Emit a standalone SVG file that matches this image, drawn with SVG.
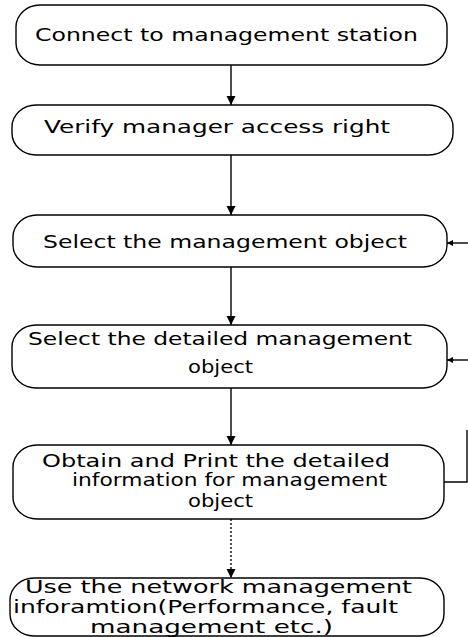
<svg xmlns="http://www.w3.org/2000/svg" width="468" height="637" viewBox="0 0 468 637">
<style>
.box{fill:#fff;stroke:#000;stroke-width:1.4}
.t{font-family:"DejaVu Sans","Liberation Sans",Arial,sans-serif;font-size:17px;fill:#000}
.c{fill:none;stroke:#000;stroke-width:1.4}
</style>
<defs>
<marker id="ah" viewBox="0 0 10 10" refX="10" refY="5" markerUnits="userSpaceOnUse" markerWidth="9" markerHeight="11" orient="auto"><path d="M0,0 L10,5 L0,10 z" fill="#000"/></marker>
<marker id="ahs" viewBox="0 0 10 10" refX="10" refY="5" markerUnits="userSpaceOnUse" markerWidth="7" markerHeight="6" orient="auto"><path d="M0,0 L10,5 L0,10 z" fill="#000"/></marker>
</defs>
<rect width="468" height="637" fill="#fff"/>
<g id="connectors">
<path class="c" d="M231,65 V105" marker-end="url(#ah)"/>
<path class="c" d="M231,155 V215" marker-end="url(#ah)"/>
<path class="c" d="M231,267 V325" marker-end="url(#ah)"/>
<path class="c" d="M231,388 V445" stroke-width="1" marker-end="url(#ah)"/>
<path class="c" d="M231,519 V578" stroke-width="1.2" stroke-dasharray="2,2" marker-end="url(#ah)"/>
<path class="c" d="M444,482 H467 V430" stroke-width="1.1"/>
<path class="c" d="M468,243 H447" marker-end="url(#ahs)"/>
<path class="c" d="M468,360 H447" marker-end="url(#ahs)"/>
</g>
<g id="n1">
<rect class="box" x="16" y="5" width="431" height="60" rx="24" ry="22"/>
<text class="t" x="35" y="41" textLength="383" lengthAdjust="spacingAndGlyphs">Connect to management station</text>
</g>
<g id="n2">
<rect class="box" x="12" y="105" width="441" height="50" rx="24" ry="22"/>
<text class="t" x="44" y="133" textLength="346" lengthAdjust="spacingAndGlyphs">Verify manager access right</text>
</g>
<g id="n3">
<rect class="box" x="13" y="215" width="434" height="52" rx="24" ry="22"/>
<text class="t" x="43" y="248" textLength="364" lengthAdjust="spacingAndGlyphs">Select the management object</text>
</g>
<g id="n4">
<rect class="box" x="12" y="325" width="435" height="63" rx="24" ry="22"/>
<text class="t" x="28" y="345" textLength="384" lengthAdjust="spacingAndGlyphs">Select the detailed management</text>
<text class="t" x="188" y="373" textLength="65" lengthAdjust="spacingAndGlyphs">object</text>
</g>
<g id="n5">
<rect class="box" x="13" y="445" width="431" height="74" rx="24" ry="22"/>
<text class="t" x="42" y="467" textLength="348" lengthAdjust="spacingAndGlyphs">Obtain and Print the detailed</text>
<text class="t" x="72" y="486" textLength="315" lengthAdjust="spacingAndGlyphs">information for management</text>
<text class="t" x="188" y="507" textLength="65" lengthAdjust="spacingAndGlyphs">object</text>
</g>
<g id="n6">
<rect class="box" x="10" y="578" width="434" height="58" rx="24" ry="22"/>
<text class="t" x="25" y="593" textLength="387" lengthAdjust="spacingAndGlyphs">Use the network management</text>
<text class="t" x="13" y="613" textLength="385" lengthAdjust="spacingAndGlyphs">inforamtion(Performance, fault</text>
<text class="t" x="90" y="633" textLength="243" lengthAdjust="spacingAndGlyphs">management etc.)</text>
</g>
</svg>
